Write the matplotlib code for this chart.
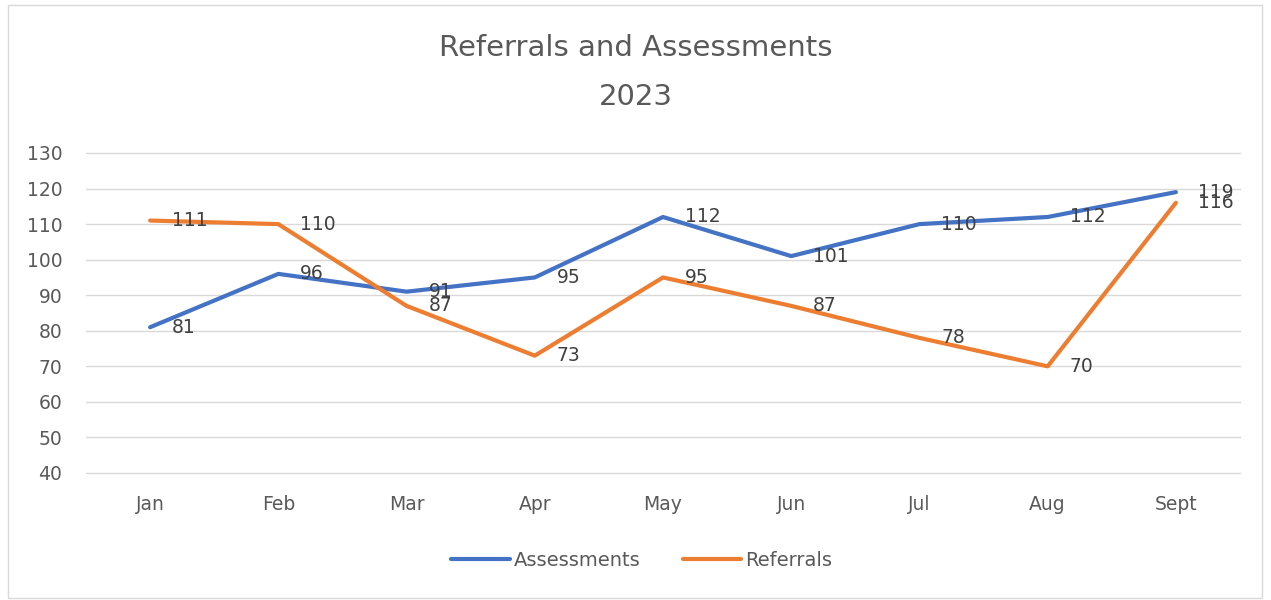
import matplotlib
matplotlib.use("Agg")
import matplotlib.pyplot as plt
from matplotlib.patches import Rectangle

months = ["Jan", "Feb", "Mar", "Apr", "May", "Jun", "Jul", "Aug", "Sept"]
assessments = [81, 96, 91, 95, 112, 101, 110, 112, 119]
referrals = [111, 110, 87, 73, 95, 87, 78, 70, 116]
yticks = [40, 50, 60, 70, 80, 90, 100, 110, 120, 130]

BLUE = "#4472C4"
ORANGE = "#ED7D31"
TXT = "#595959"
LBL = "#404040"

plt.rcParams['font.family'] = ['DejaVu Sans']

fig = plt.figure(figsize=(12.71, 6.0), dpi=100)
fig.patches.append(Rectangle((8/1271, 2/600), 1254/1271, 593/600, transform=fig.transFigure,
                             fill=False, edgecolor="#d9d9d9", linewidth=1))
ax = fig.add_axes([86/1271, 1 - 473/600, 1154/1271, 320/600])

x = list(range(len(months)))
ax.plot(x, assessments, color=BLUE, linewidth=3, label="Assessments", solid_capstyle="round", zorder=3)
ax.plot(x, referrals, color=ORANGE, linewidth=3, label="Referrals", solid_capstyle="round", zorder=3)

for xi, v in zip(x, assessments):
    ax.annotate(str(v), (xi, v), xytext=(22, 0), textcoords="offset pixels",
                ha="left", va="center", fontsize=13.5, color=LBL, zorder=4)
for xi, v in zip(x, referrals):
    ax.annotate(str(v), (xi, v), xytext=(22, 0), textcoords="offset pixels",
                ha="left", va="center", fontsize=13.5, color=LBL, zorder=4)

ax.set_xlim(-0.5, len(months) - 0.5)
ax.set_ylim(40, 130)
ax.set_yticks(yticks)
ax.set_xticks(x)
ax.set_xticklabels(months)
ax.grid(axis="y", color="#d9d9d9", linewidth=1)
for gl in ax.get_ygridlines():
    gl.set_clip_on(False)
ax.set_axisbelow(True)
for s in ax.spines.values():
    s.set_visible(False)
ax.tick_params(axis="both", length=0, labelsize=13.5, colors=TXT)
ax.tick_params(axis="x", pad=16)
ax.tick_params(axis="y", pad=17)

fig.text(0.5, 1 - 48/600, "Referrals and Assessments", ha="center", va="center", fontsize=21, color=TXT)
fig.text(0.5, 1 - 97/600, "2023", ha="center", va="center", fontsize=21, color=TXT)

leg = fig.legend(loc="center", bbox_to_anchor=(0.505, 1 - 560/600), ncol=2, frameon=False,
                 fontsize=14, handlelength=3.0, handletextpad=0.2, columnspacing=2.2)
for t in leg.get_texts():
    t.set_color(TXT)

fig.savefig("out.png", dpi=100)
